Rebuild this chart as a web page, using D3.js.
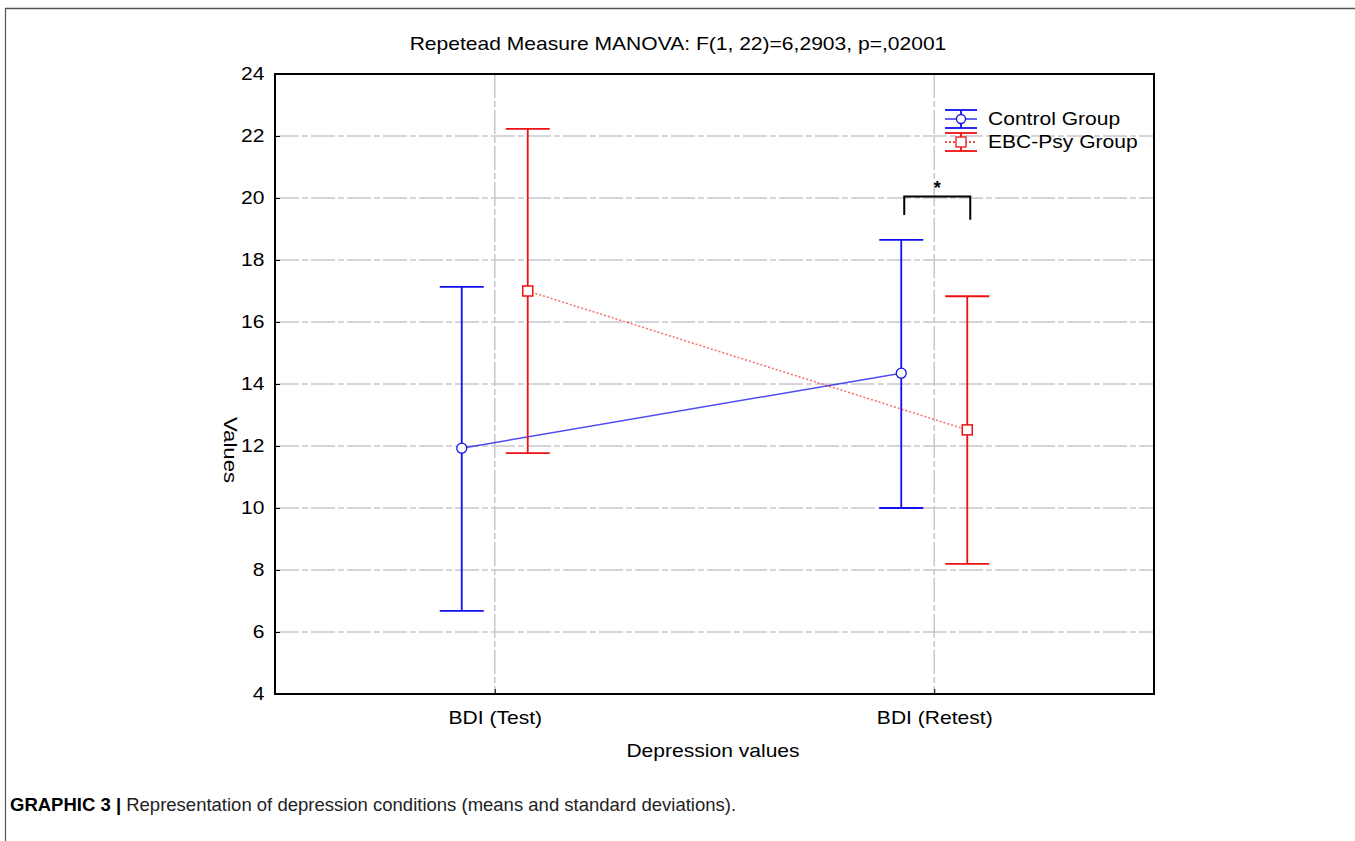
<!DOCTYPE html>
<html><head><meta charset="utf-8">
<script src="https://cdn.jsdelivr.net/npm/d3@7"></script>
<style>body{margin:0;background:#fff;font-family:"Liberation Sans",Arial,sans-serif}</style>
</head><body><svg id="c" width="1355" height="841"></svg>
<script>
const categories = ["BDI (Test)", "BDI (Retest)"];
const seriesNames = ["Control Group", "EBC-Psy Group"];
const controlMean = [11.93, 14.35];
const controlUpper = [17.13, 18.65];
const controlLower = [6.68, 10.0];
const ebcMean = [17.0, 12.52];
const ebcUpper = [22.23, 16.83];
const ebcLower = [11.77, 8.2];
const yTicks = [4, 6, 8, 10, 12, 14, 16, 18, 20, 22, 24];
const titleText = "Repetead Measure MANOVA: F(1, 22)=6,2903, p=,02001";

const svg = d3.select("#c");
const font = "'Liberation Sans', Arial, sans-serif";
const SX = 1.17;
const L = 275, R = 1154, T = 74, B = 694;
const x = d3.scalePoint().domain(categories).range([L, R]).padding(0.5);
const y = d3.scaleLinear().domain([4, 24]).range([B, T]);
const off = 33, cap = 22;
const gridCol = "#c6c6ce";
const dash = "24,3,6,3";

function wideText(px, py, str, size, anchor, rot) {
  return svg.append("text")
    .attr("transform", `translate(${px},${py})` + (rot ? ` rotate(${rot})` : "") + ` scale(${SX},1)`)
    .attr("text-anchor", anchor || "start")
    .attr("font-size", size).attr("font-family", font).attr("fill", "#000").text(str);
}

// outer frame
svg.append("line").attr("x1",5).attr("x2",1355).attr("y1",8.5).attr("y2",8.5).attr("stroke","#555").attr("stroke-width",1.5);
svg.append("line").attr("x1",5.5).attr("x2",5.5).attr("y1",8).attr("y2",841).attr("stroke","#555").attr("stroke-width",1.2);

// grid
svg.append("g").selectAll("line").data(yTicks.slice(1,-1)).join("line")
  .attr("x1",L).attr("x2",R).attr("y1",d=>y(d)).attr("y2",d=>y(d))
  .attr("stroke",gridCol).attr("stroke-width",1.5).attr("stroke-dasharray",dash);
svg.append("g").selectAll("line").data(categories).join("line")
  .attr("x1",d=>x(d)).attr("x2",d=>x(d)).attr("y1",T).attr("y2",B)
  .attr("stroke",gridCol).attr("stroke-width",1.5).attr("stroke-dasharray",dash);

// axes
const yAxis = d3.axisLeft(y).tickValues(yTicks).tickSize(-5).tickPadding(9).tickFormat(d3.format("d"));
const gy = svg.append("g").attr("transform",`translate(${L},0)`).call(yAxis);
gy.select(".domain").remove();
gy.selectAll("text").attr("font-size",18).attr("font-family",font).attr("fill","#000")
  .attr("transform",`scale(${SX},1)`);
gy.selectAll(".tick line").attr("stroke","#000");
const xAxis = d3.axisBottom(x).tickSize(-5).tickPadding(17);
const gx = svg.append("g").attr("transform",`translate(0,${B})`).call(xAxis);
gx.select(".domain").remove();
gx.selectAll("text").attr("font-size",18).attr("font-family",font).attr("fill","#000")
  .attr("transform",`scale(${SX},1)`);
gx.selectAll(".tick").each(function(d){
  d3.select(this).select("text").attr("transform", `scale(${SX},1)`);
});
gx.selectAll(".tick line").attr("stroke","#000");
svg.append("rect").attr("x",L).attr("y",T).attr("width",R-L).attr("height",B-T)
  .attr("fill","none").attr("stroke","#000").attr("stroke-width",2);

// title and labels
wideText(678, 50, titleText, 18, "middle");
wideText(713, 757, "Depression values", 18, "middle");
wideText(224, 450, "Values", 19, "middle", 90);

// series
const series = [
  {name: seriesNames[0], mean: controlMean, up: controlUpper, lo: controlLower, color:"#1010ee", dx:-off, marker:"circle", dash:null},
  {name: seriesNames[1], mean: ebcMean, up: ebcUpper, lo: ebcLower, color:"#ee1111", dx: off, marker:"square", dash:"2,2"}
];
series.forEach(s => {
  const g = svg.append("g");
  const cx = i => x(categories[i]) + s.dx;
  const idx = categories.map((c,i)=>i);
  g.append("path").datum(idx)
    .attr("d", d3.line().x(i=>cx(i)).y(i=>y(s.mean[i])))
    .attr("fill","none").attr("stroke", s.color).attr("stroke-width",1.5)
    .attr("stroke-opacity", s.dash ? 0.6 : 0.75)
    .attr("stroke-dasharray", s.dash);
  g.selectAll(".stem").data(idx).join("line")
    .attr("x1",cx).attr("x2",cx).attr("y1",i=>y(s.up[i])).attr("y2",i=>y(s.lo[i]))
    .attr("stroke",s.color).attr("stroke-width",1.8);
  g.selectAll(".capu").data(idx).join("line")
    .attr("x1",i=>cx(i)-cap).attr("x2",i=>cx(i)+cap).attr("y1",i=>y(s.up[i])).attr("y2",i=>y(s.up[i]))
    .attr("stroke",s.color).attr("stroke-width",1.8);
  g.selectAll(".capl").data(idx).join("line")
    .attr("x1",i=>cx(i)-cap).attr("x2",i=>cx(i)+cap).attr("y1",i=>y(s.lo[i])).attr("y2",i=>y(s.lo[i]))
    .attr("stroke",s.color).attr("stroke-width",1.8);
  if (s.marker === "circle") {
    g.selectAll(".m").data(idx).join("circle")
      .attr("cx",cx).attr("cy",i=>y(s.mean[i])).attr("r",5)
      .attr("fill","#fff").attr("stroke",s.color).attr("stroke-width",1.3);
  } else {
    g.selectAll(".m").data(idx).join("rect")
      .attr("x",i=>cx(i)-5).attr("y",i=>y(s.mean[i])-5).attr("width",10).attr("height",10)
      .attr("fill","#fff").attr("stroke",s.color).attr("stroke-width",1.5);
  }
});

// significance bracket
const bx1 = x(categories[1]) - off + 3, bx2 = x(categories[1]) + off + 3;
const by = y(20.05);
svg.append("path").attr("d",`M${bx1},${y(19.45)}V${by}H${bx2}V${y(19.3)}`)
  .attr("fill","none").attr("stroke","#000").attr("stroke-width",2);
svg.append("text").attr("x",(bx1+bx2)/2).attr("y",by-2).attr("text-anchor","middle")
  .attr("font-size",18).attr("font-family",font).attr("font-weight","bold").text("*");

// legend
const lg = svg.append("g");
const lx = 945, ly = [119, 142];
series.forEach((s,k) => {
  const yy = ly[k];
  const gg = lg.append("g");
  gg.append("line").attr("x1",lx).attr("x2",lx+32).attr("y1",yy-9).attr("y2",yy-9).attr("stroke",s.color).attr("stroke-width",1.8);
  gg.append("line").attr("x1",lx).attr("x2",lx+32).attr("y1",yy+9).attr("y2",yy+9).attr("stroke",s.color).attr("stroke-width",1.8);
  gg.append("line").attr("x1",lx+16).attr("x2",lx+16).attr("y1",yy-9).attr("y2",yy+9).attr("stroke",s.color).attr("stroke-width",1.8);
  gg.append("line").attr("x1",lx).attr("x2",lx+32).attr("y1",yy).attr("y2",yy).attr("stroke",s.color).attr("stroke-width",1.3).attr("stroke-dasharray",s.dash);
  if (s.marker === "circle") gg.append("circle").attr("cx",lx+16).attr("cy",yy).attr("r",4.5).attr("fill","#fff").attr("stroke",s.color).attr("stroke-width",1.3);
  else gg.append("rect").attr("x",lx+11).attr("y",yy-5).attr("width",10).attr("height",10).attr("fill","#fff").attr("stroke",s.color).attr("stroke-width",1.3);
  wideText(lx+43, yy+6, s.name, 18, "start");
});

// caption
const cap2 = svg.append("text").attr("x",10).attr("y",811).attr("font-size",18.5).attr("font-family",font);
cap2.append("tspan").attr("font-weight","bold").text("GRAPHIC 3 | ");
cap2.append("tspan").attr("fill","#222").text("Representation of depression conditions (means and standard deviations).");
</script></body></html>
